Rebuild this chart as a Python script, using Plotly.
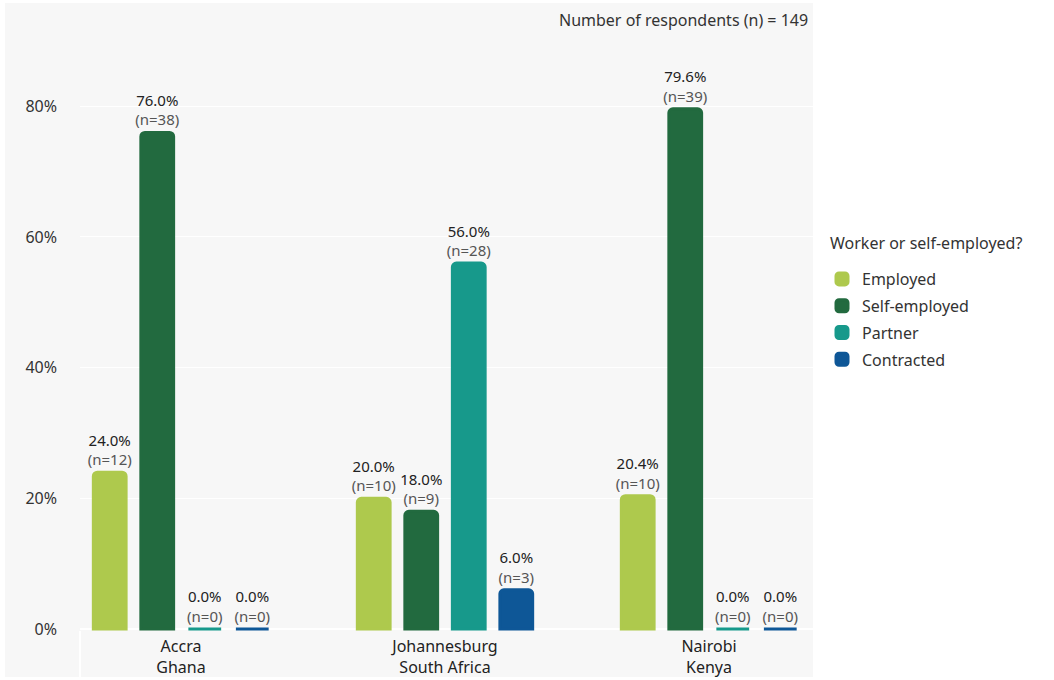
import plotly.graph_objects as go

cities = ["Accra<br>Ghana", "Johannesburg<br>South Africa", "Nairobi<br>Kenya"]
series = ["Employed", "Self-employed", "Partner", "Contracted"]
pct = {
    "Employed": [24.0, 20.0, 20.4],
    "Self-employed": [76.0, 18.0, 79.6],
    "Partner": [0.0, 56.0, 0.0],
    "Contracted": [0.0, 6.0, 0.0],
}
counts = {
    "Employed": [12, 10, 10],
    "Self-employed": [38, 9, 39],
    "Partner": [0, 28, 0],
    "Contracted": [0, 3, 0],
}
colors = {
    "Employed": "#aec94d",
    "Self-employed": "#226a3f",
    "Partner": "#17998b",
    "Contracted": "#0e5797",
}
y_ticks = [0, 20, 40, 60, 80]
note = "Number of respondents (n) = 149"
legend_title = "Worker or self-employed?"

FONT = "Noto Sans"
BG = "#f7f7f7"

fig = go.Figure()
xs = list(range(len(cities)))
for s in series:
    fig.add_trace(go.Bar(
        name=s, x=xs, y=pct[s], legendgroup=s,
        marker=dict(color=colors[s], line=dict(color=colors[s], width=3)),
        text=[f"{p:.1f}%<br><span style='color:#555'>(n={n})</span>" for p, n in zip(pct[s], counts[s])],
        textposition="outside",
        constraintext="none",
        textfont=dict(size=15, color="#222", family=FONT),
        cliponaxis=False,
        hoverinfo="skip",
    ))

L, R, T, B = 80, 813, 3, 635
W, H = 1054, 680
pw, ph = R - L, B - T

fig.update_layout(
    width=W, height=H,
    margin=dict(l=L, r=W - R, t=T, b=H - B),
    paper_bgcolor="white", plot_bgcolor=BG,
    barmode="group", bargap=0.28, bargroupgap=0.31,
    barcornerradius=4,
    uniformtext=dict(mode=False),
    font=dict(family=FONT, size=16, color="#333"),
    showlegend=True,
    legend=dict(
        x=(822 - L) / pw, xanchor="left",
        y=(B - 262) / ph, yanchor="top",
        bgcolor="rgba(0,0,0,0)",
        font=dict(size=16, color="#333"),
        tracegroupgap=3,
    ),
    xaxis=dict(
        tickmode="array", tickvals=xs, ticktext=cities,
        range=[(L - 181) / 264, (R - 181) / 264],
        showgrid=False, zeroline=False, showline=False,
        ticks="", tickfont=dict(size=16, color="#222"),
        fixedrange=True,
    ),
    yaxis=dict(
        range=[-0.92, 95.8],
        tickmode="array", tickvals=y_ticks,
        ticktext=[f"{v}%" for v in y_ticks],
        showgrid=True, gridcolor="white", gridwidth=1,
        zeroline=True, zerolinecolor="white", zerolinewidth=2,
        ticks="", ticklabelstandoff=22,
        tickfont=dict(size=16, color="#333"),
        fixedrange=True,
    ),
    shapes=[
        dict(type="rect", xref="paper", yref="paper",
             x0=(5 - L) / pw, x1=1, y0=(B - 677) / ph, y1=1,
             fillcolor=BG, line=dict(width=0), layer="below"),
        dict(type="line", xref="paper", yref="paper",
             x0=0, x1=0, y0=(B - 677) / ph, y1=(B - 631) / ph,
             line=dict(color="white", width=2), layer="above"),
    ],
    annotations=[
        dict(text=note, xref="paper", yref="paper",
             x=(810 - L) / pw, y=(B - 20) / ph, xanchor="right", yanchor="middle",
             showarrow=False, font=dict(size=16, color="#333")),
        dict(text=legend_title, xref="paper", yref="paper",
             x=(828 - L) / pw, y=(B - 243) / ph, xanchor="left", yanchor="middle",
             showarrow=False, font=dict(size=16, color="#333")),
    ],
)

fig.write_html("out.html")
